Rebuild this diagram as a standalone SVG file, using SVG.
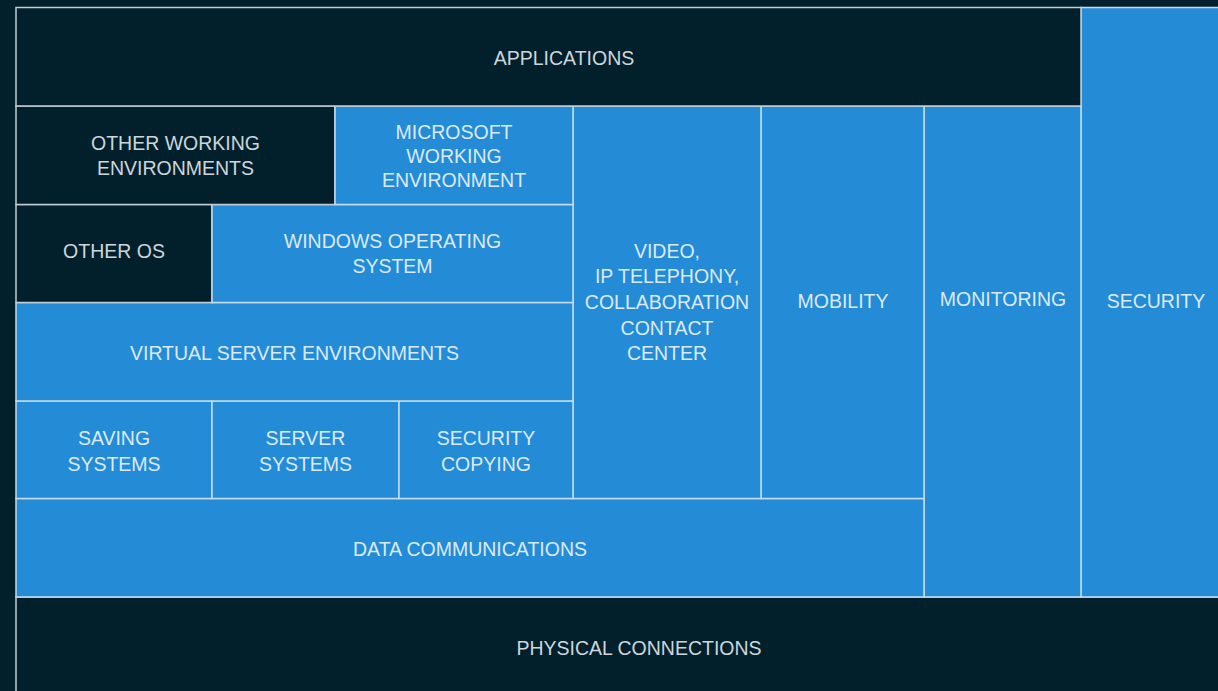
<svg xmlns="http://www.w3.org/2000/svg" width="1218" height="691" viewBox="0 0 1218 691">
<style>
.d{fill:#01202b;stroke:#c3ccd2;stroke-width:1.5}
.b{fill:#248bd6;stroke:#c6dcec;stroke-width:1.5}
text{font-family:"Liberation Sans",Arial,sans-serif;font-size:19.5px;text-anchor:middle}
.td{fill:#cdd6dc}
.tb{fill:#dbeaf7}
</style>
<rect x="0" y="0" width="1218" height="691" fill="#01202b"/>
<g id="physical-connections">
<rect class="d" x="16" y="597" width="1220" height="110"/>
<text class="td" x="639" y="655">PHYSICAL CONNECTIONS</text>
</g>
<g id="security">
<rect class="b" x="1081" y="7.5" width="150" height="589.5"/>
<text class="tb" x="1156" y="308">SECURITY</text>
</g>
<g id="monitoring">
<rect class="b" x="924" y="106" width="157" height="491"/>
<text class="tb" x="1003" y="306">MONITORING</text>
</g>
<g id="data-communications">
<rect class="b" x="16" y="498.5" width="908" height="98.5"/>
<text class="tb" x="470" y="556">DATA COMMUNICATIONS</text>
</g>
<g id="mobility">
<rect class="b" x="761" y="106" width="163" height="392.5"/>
<text class="tb" x="843" y="308">MOBILITY</text>
</g>
<g id="video">
<rect class="b" x="573" y="106" width="188" height="392.5"/>
<text class="tb" x="667" y="257.5">VIDEO,</text>
<text class="tb" x="667" y="283.2">IP TELEPHONY,</text>
<text class="tb" x="667" y="309">COLLABORATION</text>
<text class="tb" x="667" y="334.7">CONTACT</text>
<text class="tb" x="667" y="360.4">CENTER</text>
</g>
<g id="saving-systems">
<rect class="b" x="16" y="401" width="196" height="97.5"/>
<text class="tb" x="114" y="445">SAVING</text>
<text class="tb" x="114" y="470.5">SYSTEMS</text>
</g>
<g id="server-systems">
<rect class="b" x="212" y="401" width="187" height="97.5"/>
<text class="tb" x="305.5" y="445">SERVER</text>
<text class="tb" x="305.5" y="470.5">SYSTEMS</text>
</g>
<g id="security-copying">
<rect class="b" x="399" y="401" width="174" height="97.5"/>
<text class="tb" x="486" y="445">SECURITY</text>
<text class="tb" x="486" y="470.5">COPYING</text>
</g>
<g id="virtual-server-environments">
<rect class="b" x="16" y="302.5" width="557" height="98.5"/>
<text class="tb" x="294.5" y="360">VIRTUAL SERVER ENVIRONMENTS</text>
</g>
<g id="other-os">
<rect class="d" x="16" y="204.5" width="196" height="98"/>
<text class="td" x="114" y="258">OTHER OS</text>
</g>
<g id="windows-operating-system">
<rect class="b" x="212" y="204.5" width="361" height="98"/>
<text class="tb" x="392.5" y="248">WINDOWS OPERATING</text>
<text class="tb" x="392.5" y="272.5">SYSTEM</text>
</g>
<g id="other-working-environments">
<rect class="d" x="16" y="106" width="319" height="98.5"/>
<text class="td" x="175.5" y="150">OTHER WORKING</text>
<text class="td" x="175.5" y="174.5">ENVIRONMENTS</text>
</g>
<g id="microsoft-working-environment">
<rect class="b" x="335" y="106" width="238" height="98.5"/>
<text class="tb" x="454" y="139">MICROSOFT</text>
<text class="tb" x="454" y="163">WORKING</text>
<text class="tb" x="454" y="187">ENVIRONMENT</text>
</g>
<g id="applications">
<rect class="d" x="16" y="7.5" width="1065" height="98.5"/>
<text class="td" x="564" y="65">APPLICATIONS</text>
</g>
</svg>
